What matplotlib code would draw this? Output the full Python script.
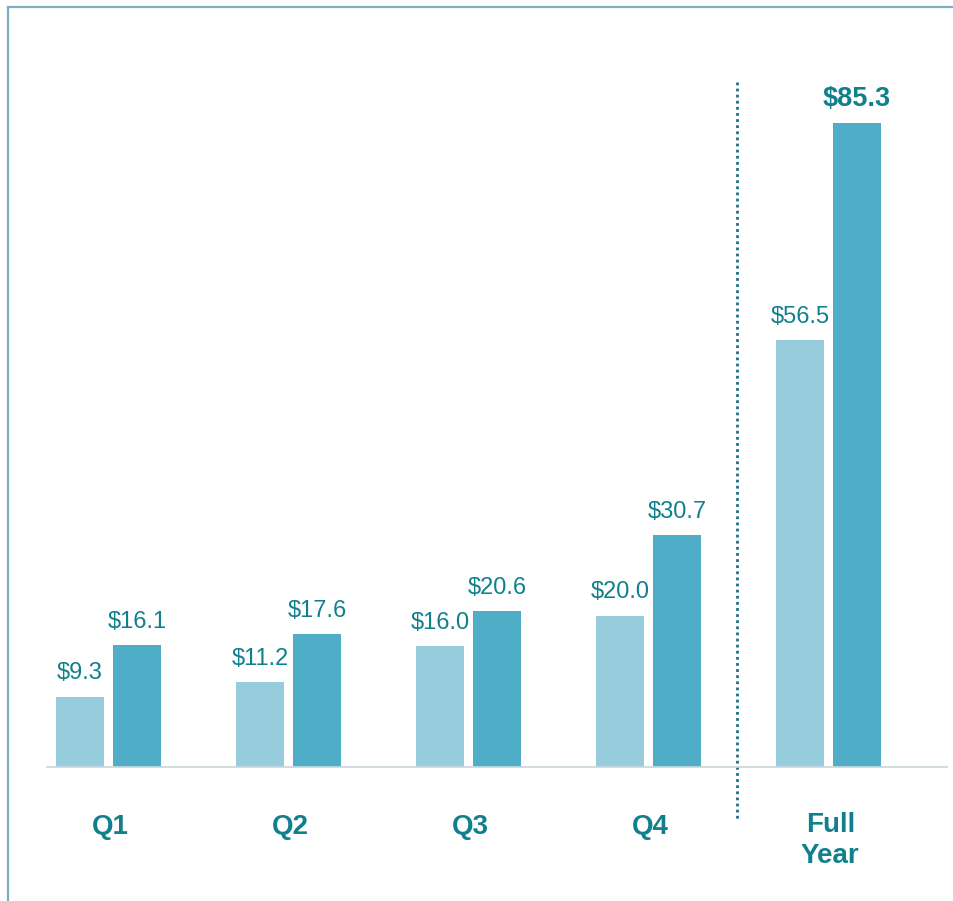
import matplotlib
matplotlib.use("Agg")
from matplotlib import pyplot as plt
import numpy as np

plt.rcParams['font.family'] = ['Liberation Sans', 'DejaVu Sans']

# data
categories = ["Q1", "Q2", "Q3", "Q4", "Full\nYear"]
prior_year = [9.3, 11.2, 16.0, 20.0, 56.5]
current_year = [16.1, 17.6, 20.6, 30.7, 85.3]

light = "#96CCDC"
dark = "#4FADC8"
text_col = "#11808C"
frame_col = "#7AAFBF"

fig = plt.figure(figsize=(9.54, 9.01), dpi=100)
# axes spans from frame left/top down to baseline
ax = fig.add_axes([8 / 954, (901 - 767) / 901, 946 / 954, 760 / 901])

x = np.arange(len(categories))
w = 48 / 180
off = 28.5 / 180
ax.bar(x - off, prior_year, w, color=light, zorder=2)
ax.bar(x + off, current_year, w, color=dark, zorder=2)

ax.set_xlim(-100.5 / 180, 845.5 / 180)
ax.set_ylim(0, 760 / 7.55)

for i, (a, b) in enumerate(zip(prior_year, current_year)):
    ax.annotate(f"${a:.1f}", (x[i] - off, a), xytext=(0, 17), textcoords="offset points",
                ha="center", va="center", fontsize=17, color=text_col)
    last = i == len(categories) - 1
    ax.annotate(f"${b:.1f}", (x[i] + off, b), xytext=(0, 17), textcoords="offset points",
                ha="center", va="center", fontsize=19.5 if last else 17,
                fontweight="bold" if last else "normal", color=text_col)

# category labels under the baseline
for i, c in enumerate(categories):
    ax.annotate(c, (x[i] + 0.01, 0), xytext=(0, -43.5 if "\n" not in c else -53),
                textcoords="offset points", ha="center", va="center",
                fontsize=20, fontweight="bold", color=text_col, linespacing=1.25)

# baseline
ax.plot([-61.5 / 180, 838.5 / 180], [0, 0], color="#C8D6DC", lw=1.2, clip_on=False, zorder=3)

# dotted separator between Q4 and Full Year
ax.plot([3.49, 3.49], [90.7, -7.0], color="#1F6E87", lw=2, ls=(0, (1, 1.2)), clip_on=False)

for s in ["right", "bottom"]:
    ax.spines[s].set_visible(False)
for s in ["left", "top"]:
    ax.spines[s].set_color(frame_col)
    ax.spines[s].set_linewidth(1.6)
ax.set_xticks([])
ax.set_yticks([])
ax.patch.set_alpha(0)

# extend left frame line down to the bottom of the figure
fig.add_artist(plt.Line2D([8 / 954, 8 / 954], [0, (901 - 767) / 901], color=frame_col, lw=1.6))

fig.savefig("out.png", dpi=100)
